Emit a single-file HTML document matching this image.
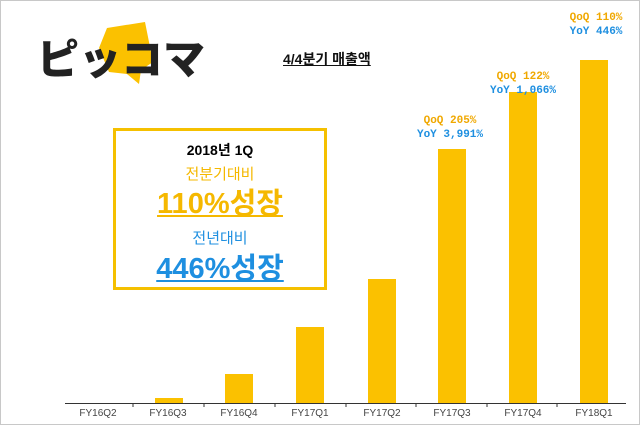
<!DOCTYPE html>
<html><head><meta charset="utf-8"><style>
body{margin:0;width:640px;height:425px;overflow:hidden;background:#fff;font-family:"Liberation Sans","Noto Sans CJK KR",sans-serif}
#f{position:absolute;left:0;top:0;width:638px;height:423px;border:1px solid #c8c8c8}
.a{position:absolute;white-space:nowrap}
.bar{position:absolute;background:#fbc100;width:28px}
.lb{position:absolute;top:408px;font-size:10px;color:#444;width:60px;text-align:center}
.q{position:absolute;font-size:11px;font-weight:bold;text-align:center;width:90px;line-height:14px;font-family:"Liberation Mono","Noto Sans CJK KR",monospace}
</style></head><body><div id="f"></div>
<svg class="a" style="left:35px;top:18px" width="175" height="72">
<polygon points="72,10 110,4 118,44 106,52 104,66 92,56 74,54 64,30" fill="#fbc100"/>
<text x="2" y="56" font-size="42" font-weight="900" fill="#222" font-family="Noto Sans CJK JP,sans-serif" textLength="168" lengthAdjust="spacingAndGlyphs">ピッコマ</text>
</svg>
<div class="a" style="left:283px;top:49px;font-size:14px;font-weight:bold;text-decoration:underline;color:#111">4/4분기 매출액</div>
<div class="a" style="left:113px;top:128px;width:208px;height:156px;border:3px solid #f5c000"></div>
<div class="a" style="left:116px;top:140px;width:208px;text-align:center;font-size:14px;font-weight:bold">2018년 1Q</div>
<div class="a" style="left:116px;top:163px;width:208px;text-align:center;font-size:15px;color:#f5b800">전분기대비</div>
<div class="a" style="left:116px;top:180px;width:208px;text-align:center;font-size:29px;font-weight:bold;color:#f5b800"><span style="text-decoration:underline">110%성장</span></div>
<div class="a" style="left:116px;top:227px;width:208px;text-align:center;font-size:15px;color:#1e8fe0">전년대비</div>
<div class="a" style="left:116px;top:245px;width:208px;text-align:center;font-size:29px;font-weight:bold;color:#1e8fe0"><span style="text-decoration:underline">446%성장</span></div>
<div class="bar" style="left:155px;top:398px;height:5px"></div>
<div class="bar" style="left:225px;top:374px;height:29px"></div>
<div class="bar" style="left:296px;top:327px;height:76px"></div>
<div class="bar" style="left:368px;top:279px;height:124px"></div>
<div class="bar" style="left:438px;top:149px;height:254px"></div>
<div class="bar" style="left:509px;top:92px;height:311px"></div>
<div class="bar" style="left:580px;top:60px;height:343px"></div>
<div class="a" style="left:65px;top:403px;width:561px;height:1px;background:#333"></div>
<svg class="a" style="left:0;top:403px" width="640" height="6"><g stroke="#333"><line x1="133" y1="0" x2="133" y2="4"/><line x1="204" y1="0" x2="204" y2="4"/><line x1="275" y1="0" x2="275" y2="4"/><line x1="346" y1="0" x2="346" y2="4"/><line x1="416" y1="0" x2="416" y2="4"/><line x1="487" y1="0" x2="487" y2="4"/><line x1="557" y1="0" x2="557" y2="4"/></g></svg>
<div class="lb" style="left:68px">FY16Q2</div><div class="lb" style="left:138px">FY16Q3</div><div class="lb" style="left:209px">FY16Q4</div><div class="lb" style="left:280px">FY17Q1</div><div class="lb" style="left:352px">FY17Q2</div><div class="lb" style="left:422px">FY17Q3</div><div class="lb" style="left:493px">FY17Q4</div><div class="lb" style="left:564px">FY18Q1</div>
<div class="q" style="left:405px;top:114px"><span style="color:#f0a800">QoQ 205%</span><br><span style="color:#1e8fe0">YoY 3,991%</span></div>
<div class="q" style="left:478px;top:70px"><span style="color:#f0a800">QoQ 122%</span><br><span style="color:#1e8fe0">YoY 1,066%</span></div>
<div class="q" style="left:551px;top:11px"><span style="color:#f0a800">QoQ 110%</span><br><span style="color:#1e8fe0">YoY 446%</span></div>
</body></html>
